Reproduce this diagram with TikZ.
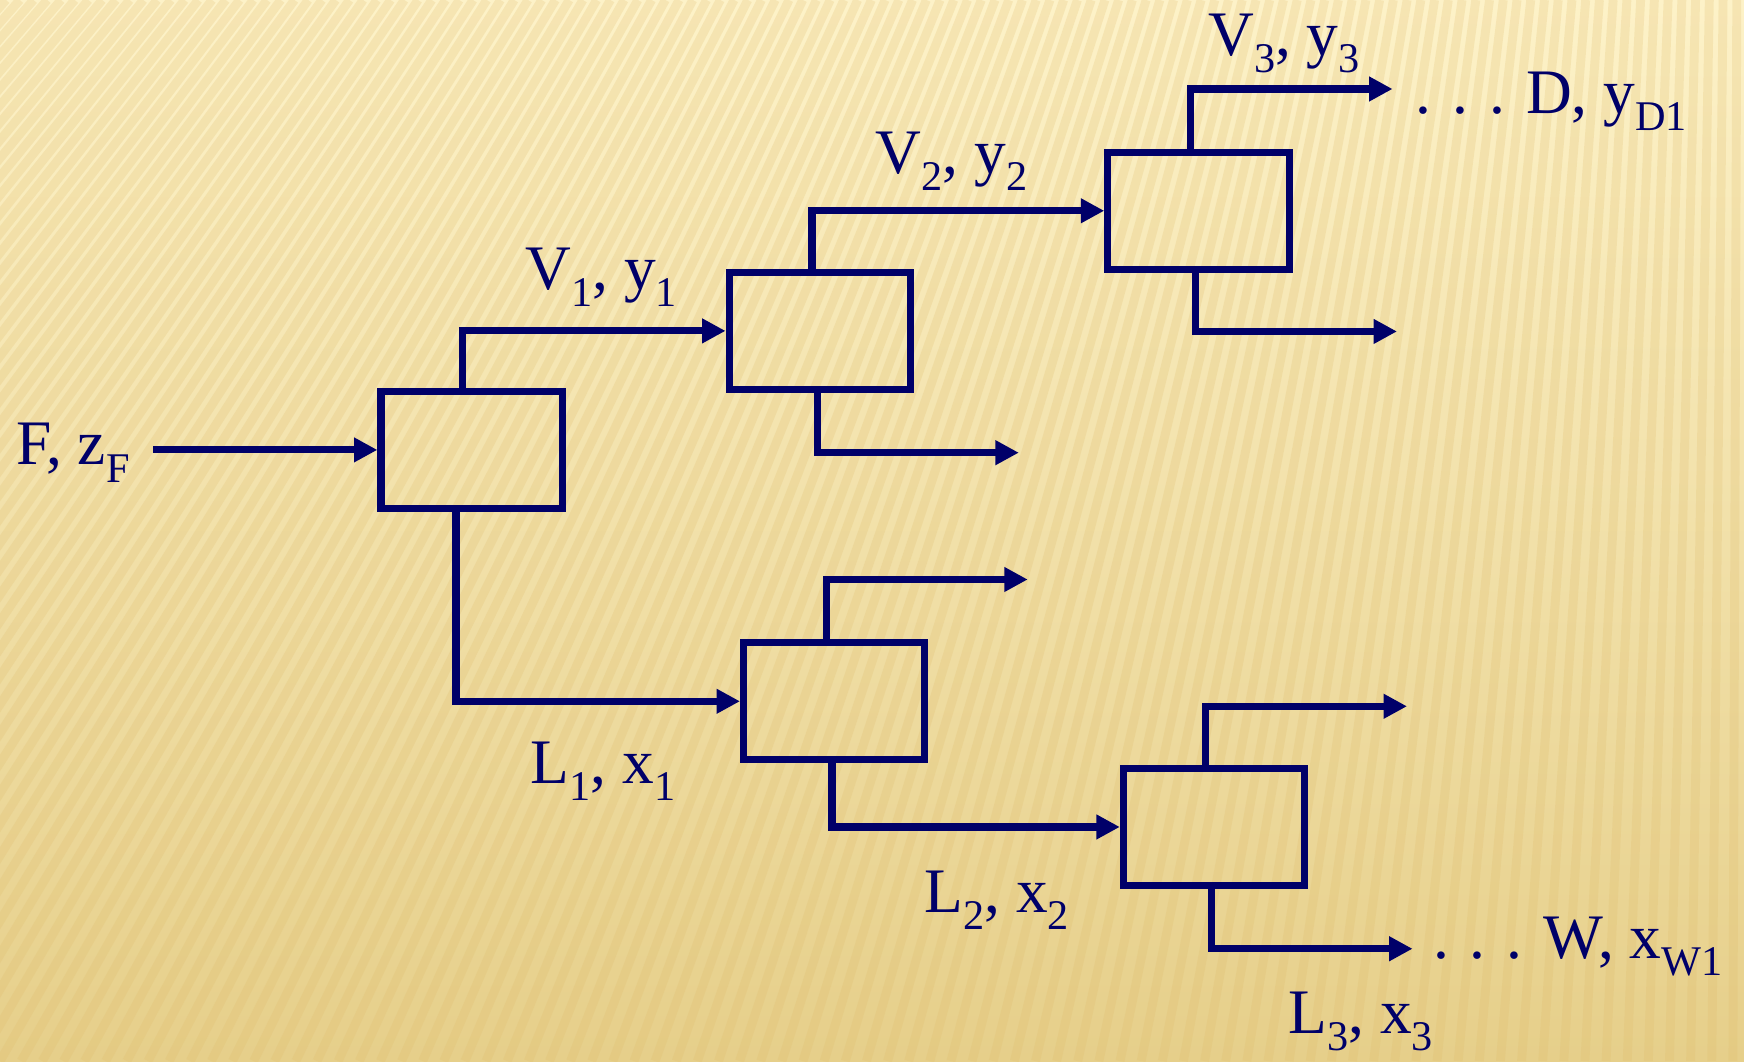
\documentclass[tikz,border=0pt]{standalone}
\usepackage{fontspec}
\setmainfont{Liberation Serif}
\usetikzlibrary{arrows.meta}
\definecolor{navy}{RGB}{0,0,105}
\definecolor{bgtop}{RGB}{253,242,200}
\definecolor{bgbot}{RGB}{230,207,138}
\definecolor{stripe}{RGB}{222,186,105}
\newcommand{\lowsub}[1]{\raisebox{-0.27em}{\fontsize{19}{20}\selectfont #1}}
\tikzset{
  stage/.style={draw=navy, line width=3.2pt, minimum width=81.5pt, minimum height=52.5pt, inner sep=0pt},
  flow/.style={draw=navy, line width=3.2pt, -{Triangle[length=10.5pt,width=10.5pt]}},
  lbl/.style={text=navy, anchor=base west, inner sep=0pt, font=\fontsize{28.5}{34}\selectfont}
}
\begin{document}
\begin{tikzpicture}[x=0.5pt, y=-0.5pt]
\useasboundingbox (0,0) rectangle (1568,954);
\shade[top color=bgtop, bottom color=bgbot] (0,0) rectangle (1568,954);
\begin{scope}
\clip (0,0) rectangle (1568,954);
\foreach \i in {-60,...,85} {
  \pgfmathsetmacro{\xb}{\i*19}
  \pgfmathsetmacro{\xt}{\xb + 0.35*(1568-\xb)}
  \draw[stripe, opacity=0.22, line width=4pt] (\xb,954) -- (\xt,0);
}
\end{scope}

% stages
\node[stage] (b1) at (424,404.5) {};
\node[stage] (b2) at (737,297.5) {};
\node[stage] (b3) at (1077.5,189.5) {};
\node[stage] (b4) at (750,630.5) {};
\node[stage] (b5) at (1091.5,743.5) {};

% free ends
\coordinate (fin) at (138,404.5);
\coordinate (v3end) at (1252,80);
\coordinate (b3low) at (1256,298);
\coordinate (b2low) at (916,407);
\coordinate (b4up) at (924,521);
\coordinate (b5up) at (1265,635);
\coordinate (w1end) at (1270,853);

% connectors
\draw[flow] (fin) -- (b1.west);
\draw[flow] ([xshift=-4pt]b1.north) |- (b2.west);
\draw[flow] ([xshift=-3.5pt]b2.north) |- (b3.west);
\draw[flow] ([xshift=-3.75pt]b3.north) |- (v3end);
\draw[flow] ([xshift=-1.25pt]b3.south) |- (b3low);
\draw[flow] ([xshift=-1pt]b2.south) |- (b2low);
\draw[flow] ([xshift=-7pt]b1.south) |- (b4.west);
\draw[flow] ([xshift=-3.5pt]b4.north) |- (b4up);
\draw[flow] ([xshift=-1pt]b4.south) |- (b5.west);
\draw[flow] ([xshift=-3.75pt]b5.north) |- (b5up);
\draw[flow] ([xshift=-1.25pt]b5.south) |- (w1end);

% labels
\node[lbl] (lf) at (14,418) {F, z\lowsub{F}};
\node[lbl] (lv1) at (472,260) {V\lowsub{1}, y\lowsub{1}};
\node[lbl] (lv2) at (787,156) {V\lowsub{2}, y\lowsub{2}};
\node[lbl] (lv3) at (1086,50) {V\lowsub{3}, y\lowsub{3}};
\node[lbl] (ld) at (1272,102) {.\,\,.\,\,.\,\,D, y\lowsub{D1}};
\node[lbl] (ll1) at (477,704) {L\lowsub{1}, x\lowsub{1}};
\node[lbl] (ll2) at (831,820) {L\lowsub{2}, x\lowsub{2}};
\node[lbl] (lw) at (1288,862) {.\,\,.\,\,.\,\,W, x\lowsub{W1}};
\node[lbl] (ll3) at (1158,929) {L\lowsub{3}, x\lowsub{3}};
\end{tikzpicture}
\end{document}
